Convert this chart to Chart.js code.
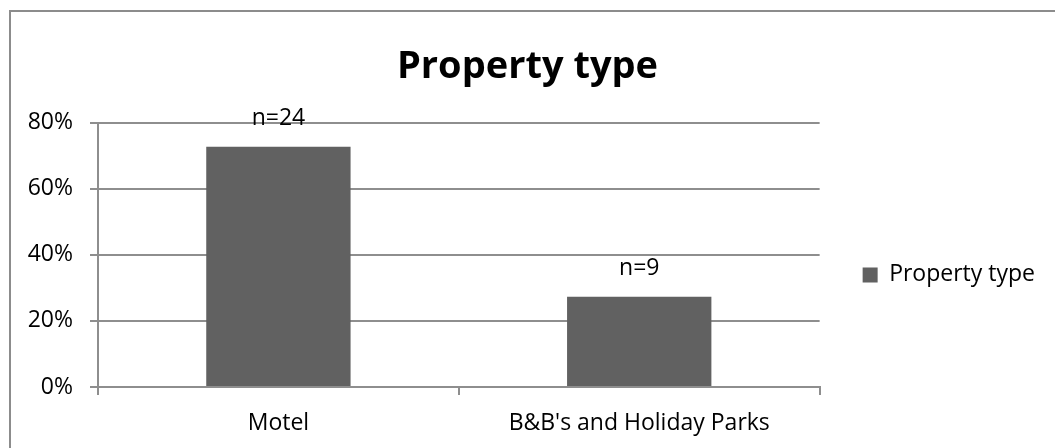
<!DOCTYPE html>
<html lang="en">
<head>
<meta charset="UTF-8">
<title>Property type</title>
<script src="https://cdn.jsdelivr.net/npm/chart.js@4.4.1/dist/chart.umd.min.js"></script>
<style>
  body { margin: 0; background: #fff; overflow: hidden; }
  #wrap { position: relative; width: 1055px; height: 448px; }
  /* outer chart frame, only the top and left edges fall inside the page */
  #frame { position: absolute; left: 9px; top: 10px; width: 1200px; height: 600px;
           border: 2px solid #8c8c8c; pointer-events: none; }
</style>
</head>
<body>
<div id="wrap">
  <canvas id="barChart" width="1055" height="448"></canvas>
  <div id="frame"></div>
</div>
<script>
// data
var categories = ["Motel", "B&B's and Holiday Parks"];
var shares = [0.727, 0.273];          // share of properties
var counts = [24, 9];                 // respondents per type
var seriesName = 'Property type';
var yMin = 0, yMax = 0.8, yStep = 0.2;

var gridColor = '#8e8e8e';
var barColor = '#616161';
var fontFamily = "'Open Sans', sans-serif";

Chart.defaults.font.family = fontFamily;
Chart.defaults.color = '#000';

// n=.. text above each bar
var countLabels = {
    id: 'countLabels',
    afterDatasetsDraw: function(chart) {
        var ctx = chart.ctx;
        var meta = chart.getDatasetMeta(0);
        ctx.save();
        ctx.font = "23px " + fontFamily;
        ctx.fillStyle = '#000';
        ctx.textAlign = 'center';
        ctx.textBaseline = 'middle';
        meta.data.forEach(function(bar, i) {
            ctx.fillText('n=' + counts[i], bar.x, bar.y - 28);
        });
        ctx.restore();
    }
};

var ctx = document.getElementById('barChart');
var chart = new Chart(ctx, {
    type: 'bar',
    data: {
        labels: categories,
        datasets: [{
            label: seriesName,
            data: shares,
            backgroundColor: barColor,
            borderWidth: 0,
            barPercentage: 0.4,
            categoryPercentage: 1
        }]
    },
    options: {
        responsive: false,
        animation: false,
        devicePixelRatio: 1,
        layout: { padding: { left: 10, right: 10, top: 0, bottom: 0 } },
        plugins: {
            title: {
                display: true,
                text: 'Property type',
                color: '#000',
                font: { size: 38, weight: 'bold' },
                padding: { top: 44, bottom: 33 }
            },
            legend: {
                position: 'right',
                fullSize: false,
                title: { display: true, text: '', font: { size: 1 }, padding: { top: 0, bottom: 39 } },
                labels: {
                    boxWidth: 15,
                    boxHeight: 15,
                    padding: 43,
                    color: '#000',
                    font: { size: 23 }
                }
            },
            tooltip: { enabled: false }
        },
        scales: {
            x: {
                grid: { drawOnChartArea: false, drawTicks: true, tickLength: 8, color: gridColor, lineWidth: 2 },
                border: { display: true, color: gridColor, width: 2 },
                ticks: { font: { size: 23 }, color: '#000', padding: 15, maxRotation: 0 },
                afterFit: function(scale) { scale.height = 61; }
            },
            y: {
                min: yMin,
                max: yMax,
                ticks: {
                    stepSize: yStep,
                    padding: 17,
                    font: { size: 23 },
                    color: '#000',
                    callback: function(v) { return Math.round(v * 100) + '%'; }
                },
                grid: { color: gridColor, tickLength: 8, lineWidth: 2 },
                border: { display: true, color: gridColor, width: 2 },
                afterFit: function(scale) { scale.width = 88; }
            }
        }
    },
    plugins: [countLabels]
});
</script>
</body>
</html>
